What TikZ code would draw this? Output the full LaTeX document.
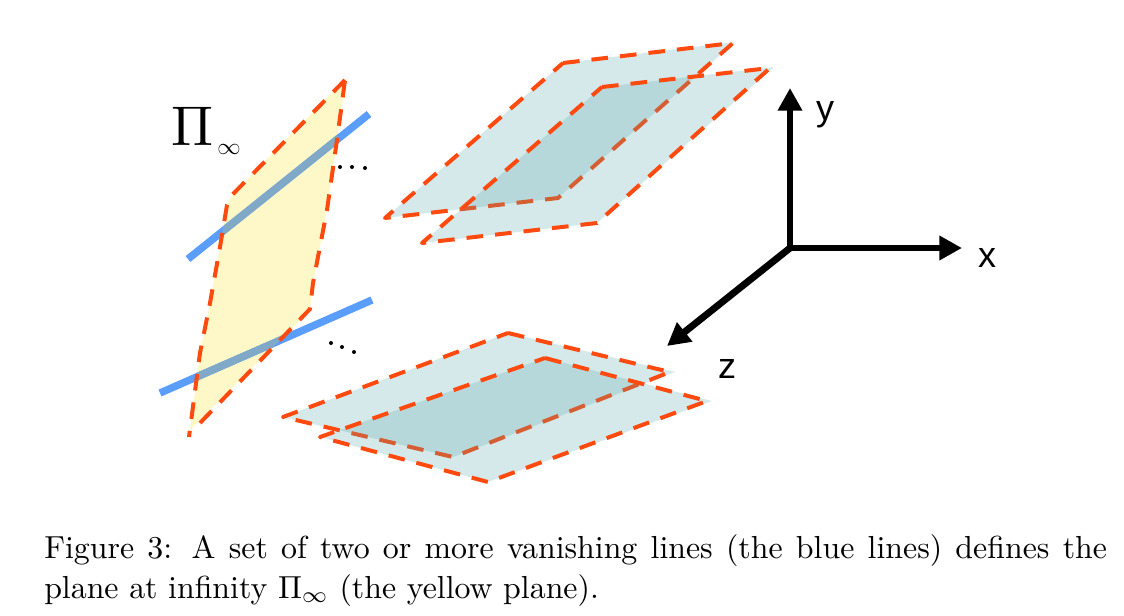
\RequirePackage{fix-cm}
\documentclass[tikz,border=0pt]{standalone}
\usepackage{fontspec}
\usepackage{graphicx}
\usetikzlibrary{arrows.meta}
\newfontfamily\axisfont{Liberation Sans}
\definecolor{edgeorange}{HTML}{FF4A0F}
\definecolor{planeteal}{RGB}{80,163,167}
\definecolor{yellowplane}{HTML}{FEF7C7}
\definecolor{lineblue}{HTML}{5B9DFA}
\definecolor{mutedblue}{HTML}{7FA9C6}
\tikzset{
  x=0.75pt,y=-0.75pt,
  planefill/.style={fill=planeteal,fill opacity=0.24,draw=none},
  edge/.style={draw=edgeorange,line width=3pt,dash pattern=on 12.5pt off 9pt,line join=round},
  vanish/.style={line width=5.6pt},
  axisline/.style={line width=5.2pt,-{Triangle[length=17pt,width=17.5pt]}},
  axislabel/.style={font=\axisfont\fontsize{27}{27}\selectfont,inner sep=0pt},
  dotmark/.style={fill=black,circle,inner sep=0pt,minimum size=3pt}
}
\begin{document}
\begin{tikzpicture}
\useasboundingbox (0,0) rectangle (1124,615);
% yellow plane
\fill[yellowplane] (346,78) -- (232,195) -- (227,205) -- (220,247) -- (210,303) -- (200,353) -- (190,430) -- (310,310) -- (313,283) -- (327,210) -- (337,140) -- cycle;
% vanishing lines
\draw[lineblue,vanish] (188,259) -- (369,114);
\draw[lineblue,vanish] (160,393) -- (372,300);
\begin{scope}
\clip (346,78) -- (232,195) -- (227,205) -- (220,247) -- (210,303) -- (200,353) -- (190,430) -- (310,310) -- (313,283) -- (327,210) -- (337,140) -- cycle;
\draw[mutedblue,vanish] (188,259) -- (369,114);
\draw[mutedblue,vanish] (160,393) -- (372,300);
\end{scope}
\draw[edge] (345,80) -- (232,195) -- (227,205) -- (220,247) -- (210,303) -- (200,353) -- (189,437);
\draw[edge] (200,423) -- (310,309) -- (313,283) -- (327,210) -- (337,140) -- (345,80);
% upper planes
\path[planefill] (385,218) -- (563,63) -- (735,42) -- (558,198) -- cycle;
\draw[edge] (563,63) -- (733,43) -- (558,198) -- (385,218) -- cycle;
\path[planefill] (422,243) -- (602,87) -- (774,67) -- (597,223) -- cycle;
\draw[edge] (602,87) -- (770,68) -- (597,223) -- (422,243) -- cycle;
% lower planes
\path[planefill] (283,417) -- (508,333) -- (675,372) -- (453,457) -- cycle;
\draw[edge] (508,333) -- (670,372) -- (453,457) -- (283,417) -- cycle;
\path[planefill] (320,437) -- (545,358) -- (712,401) -- (488,482) -- cycle;
\draw[edge] (545,358) -- (707,401) -- (488,482) -- (320,437) -- cycle;
% ellipses
\node[dotmark] (ua) at (340,167) {};
\node[dotmark] (ub) at (352,167) {};
\node[dotmark] (uc) at (365,168) {};
\node[dotmark] (la) at (331,343) {};
\node[dotmark] (lb) at (342,347) {};
\node[dotmark] (lc) at (354,352) {};
% axes
\coordinate (origin) at (790,248);
\coordinate (ytip) at (790,88);
\coordinate (xtip) at (962,248);
\coordinate (ztip) at (667,346);
\draw[axisline] (origin) -- (ytip);
\draw[axisline] (origin) -- (xtip);
\draw[axisline] (origin) -- (ztip);
\node[axislabel] (ylab) at (825,115) {y};
\node[axislabel] (xlab) at (987,258) {x};
\node[axislabel] (zlab) at (727,369) {z};
% labels
\node[inner sep=0pt,anchor=base west] (pilab) at (171,145) {\scalebox{4.2}{$\Pi$}\hspace{3pt}\raisebox{-6.75pt}{\scalebox{1.75}{$\infty$}}};
\node[inner sep=0pt,anchor=north west] (caption) at (44,534) {\scalebox{2.39}{\parbox{333.5pt}{\fontsize{10}{12.55}\selectfont Figure 3: A set of two or more vanishing lines (the blue lines) defines the\linebreak plane at infinity $\Pi_\infty$ (the yellow plane).}}};
\end{tikzpicture}
\end{document}
